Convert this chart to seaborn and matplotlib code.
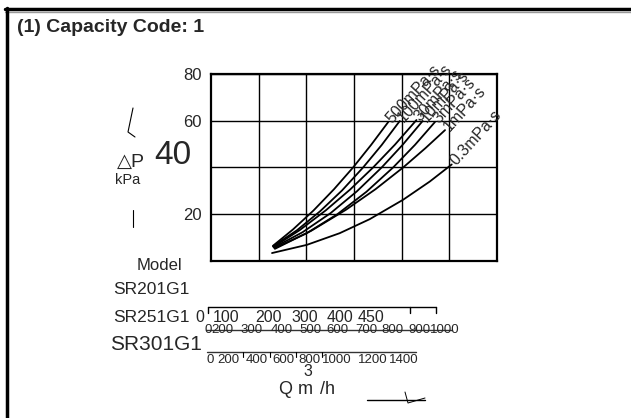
import numpy as np
import pandas as pd
import seaborn as sns
import matplotlib.pyplot as plt
from matplotlib.lines import Line2D

# pressure drop curves: flow Q (m3/h, grid scale) vs dP (kPa)
viscosities = ["500mPa·s", "100mPa·s", "30mPa·s", "10mPa·s", "3mPa·s", "1mPa·s", "0.3mPa·s"]
q_500 = [130, 172, 215, 258, 298, 336, 372]
dp_500 = [6.5, 13.5, 21.6, 30.7, 40, 49.7, 59.5]
q_100 = [130, 180, 229, 275, 319, 358, 396]
dp_100 = [6.3, 13.1, 21.3, 30.2, 40, 49.6, 59.9]
q_30 = [131, 186, 241, 292, 340, 386, 431]
dp_30 = [6.0, 13.2, 21.7, 30.6, 40, 49.8, 60.3]
q_10 = [132, 192, 251, 306, 358, 402, 444]
dp_10 = [5.8, 12.3, 20.5, 29.8, 40, 49.7, 59.9]
q_3 = [133, 200, 265, 326, 382, 428, 470]
dp_3 = [5.5, 11.8, 20.0, 29.6, 40, 49.7, 59.5]
q_1 = [134, 210, 283, 345, 403, 450, 491]
dp_1 = [5.2, 12.9, 21.9, 30.7, 40, 48.3, 56.0]
q_03 = [128, 201, 270, 333, 403, 459, 505]
dp_03 = [3.4, 6.9, 11.9, 17.9, 26.2, 34.0, 41.3]

y_ticks = [20, 40, 60, 80]
models = ["SR201G1", "SR251G1", "SR301G1"]
scale_251 = ["0", "100", "200", "300", "400", "450"]
scale_301a = ["0", "200", "300", "400", "500", "600", "700", "800", "900", "1000"]
scale_301b = ["0", "200", "400", "600", "800", "1000", "1200", "1400"]

curves = [(q_500, dp_500), (q_100, dp_100), (q_30, dp_30), (q_10, dp_10),
          (q_3, dp_3), (q_1, dp_1), (q_03, dp_03)]
rows = []
for name, (q, dp) in zip(viscosities, curves):
    for a, b in zip(q, dp):
        rows.append({"Q": a, "dP": b, "visc": name})
df = pd.DataFrame(rows)

sns.set_style("white")
plt.rcParams["font.family"] = ["Liberation Sans", "DejaVu Sans"]

W, H = 631, 418
fig = plt.figure(figsize=(W / 100, H / 100), dpi=100)


def fx(px):
    return px / W


def fy(py):
    return 1 - py / H


def ftext(px, py, s, **kw):
    kw.setdefault("ha", "center")
    kw.setdefault("va", "center")
    fig.text(fx(px), fy(py), s, **kw)


def fline(xs, ys, lw=1.0, color="black"):
    fig.add_artist(Line2D([fx(x) for x in xs], [fy(y) for y in ys],
                          lw=lw, color=color, transform=fig.transFigure))


ax = fig.add_axes([fx(211), fy(261), (497 - 211) / W, (261 - 74) / H])
sns.lineplot(data=df, x="Q", y="dP", units="visc", estimator=None, sort=False,
             color="black", lw=1.3, ax=ax)
ax.set_xlim(0, 600)
ax.set_ylim(0, 80)
ax.set_xticks([100, 200, 300, 400, 500])
ax.set_xticklabels([])
ax.set_yticks(y_ticks)
ax.set_yticklabels([str(t) if t != 40 else "" for t in y_ticks], fontsize=12)
ax.tick_params(axis="both", length=0, pad=6.5)
ax.grid(True, color="black", lw=1.0)
ax.set_xlabel("")
ax.set_ylabel("")
for sp in ax.spines.values():
    sp.set_color("black")
    sp.set_linewidth(1.6)

for name, (q, dp) in zip(viscosities, curves):
    ax.text(q[-1] + 2, dp[-1] + 0.5, name, rotation=48, rotation_mode="anchor",
            ha="left", va="center", fontsize=11.5, clip_on=False)

# big "40" label and dP axis title
ftext(173, 156, "40", fontsize=24)
ftext(131, 162, "△P", fontsize=14)
ftext(128, 180, "kPa", fontsize=10.5)
fline([133, 128, 135], [108, 132, 137], lw=0.8)
fline([133, 133], [210, 227], lw=0.8)

# title and frame
ftext(17, 28, "(1) Capacity Code: 1", ha="left", fontsize=14, fontweight="bold")
fline([5, 631], [9, 9], lw=2.5)
fline([5, 631], [11.5, 11.5], lw=1.0, color="#999999")
fline([7, 7], [8, 418], lw=2.5)

# model column
ftext(159, 265, "Model", fontsize=12)
ftext(151, 289, models[0], fontsize=12.5)
ftext(151, 317, models[1], fontsize=12.5)
ftext(156, 345, models[2], fontsize=15)

# SR251G1 scale
for s, px in zip(scale_251, [200, 226, 268, 305, 340, 371]):
    ftext(px, 317, s, fontsize=11.5)
fline([208, 436], [307, 307], lw=1.0)
for px in [208, 410, 436]:
    fline([px, px], [307, 313], lw=1.0)

# SR301G1 upper scale (struck through)
for s, px in zip(scale_301a, [208, 222, 252, 282, 310, 337, 366, 392, 419, 445]):
    ftext(px, 330, s, fontsize=9.5)
fline([206, 452], [330, 330], lw=1.0, color="#333333")

# SR301G1 lower scale
fline([207, 416], [352, 352], lw=1.0, color="#333333")
for px in [243, 270, 296, 322]:
    fline([px, px], [352, 357], lw=0.8)
for s, px in zip(scale_301b, [210, 228, 257, 283, 309, 337, 373, 404]):
    ftext(px, 360, s, fontsize=9.5)

# flow axis title
ftext(296, 389, "Q m", fontsize=13)
ftext(308, 372, "3", fontsize=11.5)
ftext(327, 389, "/h", fontsize=13)
fline([367, 425], [400, 400], lw=1.0)
fline([405, 408, 425], [392, 403, 398], lw=0.7)

fig.savefig("out.png", dpi=100, facecolor="white")
